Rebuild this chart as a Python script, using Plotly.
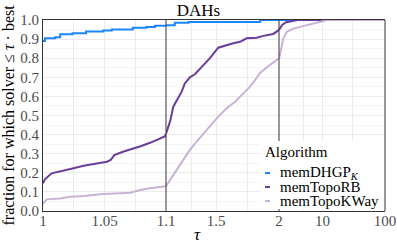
import plotly.graph_objects as go

# ---------------- data ----------------
algorithms = ["memDHGP<sub><i>K</i></sub>", "memTopoRB", "memTopoKWay"]
colors = ["#1a86ff", "#6a3d9a", "#cab2d6"]

tau_dhgp = [1.0, 1.0016, 1.01, 1.014, 1.024, 1.035, 1.049, 1.056, 1.073, 1.084, 1.091,
            1.1, 1.17, 1.28, 1.85, 2.0, 100]
frac_dhgp = [0.89, 0.904, 0.91, 0.925, 0.93, 0.94, 0.945, 0.95, 0.96, 0.963, 0.97,
             0.972, 0.985, 0.99, 1.0, 1.0, 1.0]

tau_rb = [1.0, 1.0015, 1.007, 1.015, 1.024, 1.033, 1.042, 1.052, 1.055, 1.058, 1.065,
          1.072, 1.08, 1.087, 1.092, 1.099, 1.1, 1.132, 1.158, 1.198, 1.225, 1.25, 1.29,
          1.33, 1.397, 1.45, 1.516, 1.583, 1.636, 1.69, 1.742, 1.822, 1.875, 1.955,
          2.0, 2.1, 2.25, 2.6, 4.0, 100]
frac_rb = [0.145, 0.166, 0.197, 0.211, 0.223, 0.237, 0.246, 0.258, 0.267, 0.293, 0.31,
           0.323, 0.34, 0.357, 0.372, 0.39, 0.405, 0.468, 0.546, 0.59, 0.625, 0.668, 0.70,
           0.716, 0.764, 0.80, 0.855, 0.869, 0.878, 0.886, 0.904, 0.907, 0.917, 0.927,
           0.948, 0.962, 0.974, 0.988, 1.0, 1.0]

tau_kway = [1.0, 1.003, 1.014, 1.022, 1.033, 1.049, 1.071, 1.079, 1.087, 1.096, 1.1,
            1.132, 1.172, 1.225, 1.29, 1.344, 1.424, 1.516, 1.583, 1.65, 1.716, 1.77,
            1.81, 1.847, 1.926, 2.0, 2.07, 2.34, 2.66, 3.39, 4.9, 7.1, 10.3, 12, 100]
frac_kway = [0.037, 0.061, 0.066, 0.075, 0.079, 0.089, 0.096, 0.11, 0.119, 0.127, 0.13,
             0.162, 0.197, 0.25, 0.32, 0.363, 0.424, 0.494, 0.538, 0.572, 0.616, 0.651,
             0.686, 0.721, 0.764, 0.80, 0.817, 0.904, 0.938, 0.955, 0.967, 0.981, 0.995,
             1.0, 1.0]

seg_bounds = [(1.0, 1.1), (1.1, 2.0), (2.0, 100.0)]
seg1_ticks = [1, 1.05, 1.1]
seg1_text = ["1", "1.05", "1.1"]
seg1_minor = [1.025, 1.075]
seg2_ticks = [1.5]
seg2_text = ["1.5"]
seg2_minor = [1.3, 1.75]
seg3_ticks = [2, 10, 100]
seg3_text = ["2", "10", "100"]
seg3_minor = [5, 30]
y_ticks = [0.0, 0.1, 0.2, 0.3, 0.4, 0.5, 0.6, 0.7, 0.8, 0.9, 1.0]

# ---------------- figure ----------------
W, H = 397, 245
ML, MR, MT, MB = 43, 12, 20, 34
PW = W - ML - MR
PH = H - MT - MB
FONT = "Liberation Serif"

fig = go.Figure()
series = [(tau_dhgp, frac_dhgp, "hv"), (tau_rb, frac_rb, "linear"), (tau_kway, frac_kway, "linear")]
axes = ["x", "x2", "x3"]
for (taus, fracs, shape), col in zip(series, colors):
    for (lo, hi), ax in zip(seg_bounds, axes):
        xs = [t for t in taus if lo <= t <= hi]
        ys = [f for t, f in zip(taus, fracs) if lo <= t <= hi]
        fig.add_trace(go.Scatter(x=xs, y=ys, xaxis=ax, yaxis="y", mode="lines",
                                 line=dict(color=col, width=2, shape=shape),
                                 showlegend=False, hoverinfo="skip"))

grid = "#ebebeb"
line_col = "#333333"
tickfont = dict(family=FONT, size=15, color="#4d4d4d")
d1 = 123 / PW
d2 = 236 / PW


def xaxis_cfg(domain, rng, vals, text, minor_vals, **kw):
    return dict(domain=domain, range=rng, tickmode="array", tickvals=vals, ticktext=text,
                showline=True, linecolor=line_col, linewidth=1, mirror=True,
                showgrid=True, gridcolor=grid, gridwidth=1, ticks="", zeroline=False,
                tickfont=tickfont, anchor="y", automargin=False, ticklabelstandoff=-4,
                minor=dict(tickmode="array", tickvals=minor_vals, showgrid=True,
                           gridcolor=grid, ticks=""), **kw)


fig.update_layout(
    width=W, height=H, margin=dict(l=ML, r=MR, t=MT, b=MB, autoexpand=False),
    paper_bgcolor="white", plot_bgcolor="white", showlegend=False,
    title=dict(text="DAHs", x=0.5, xref="container", xanchor="center",
               y=1 - 10 / H, yref="container", yanchor="middle",
               font=dict(family=FONT, size=17, color="black")),
    xaxis=xaxis_cfg([0, d1], [1, 1.1], seg1_ticks, seg1_text, seg1_minor),
    xaxis2=xaxis_cfg([d1, d2], [1.1, 2], seg2_ticks, seg2_text, seg2_minor),
    xaxis3=xaxis_cfg([d2, 1], [0.30103, 2], seg3_ticks, seg3_text, seg3_minor, type="log"),
    yaxis=dict(range=[0, 1], tickmode="array", tickvals=y_ticks,
               ticktext=[f"{v:.1f}" for v in y_ticks], showline=True, linecolor=line_col,
               mirror=False, showgrid=True, gridcolor=grid, ticks="", zeroline=False,
               tickfont=tickfont, anchor="x", automargin=False,
               minor=dict(showgrid=True, gridcolor="#f5f5f5", dtick=0.05, tick0=0, ticks="")),
)


def px(xp):
    return (xp - ML) / PW


def py(yp):
    return (H - MB - yp) / PH


# segment separators and right frame
for xv in (d1, d2, 1.0):
    fig.add_shape(type="line", xref="paper", yref="paper", x0=xv, x1=xv, y0=0, y1=1,
                  line=dict(color=line_col, width=1), layer="above")

# axis titles
fig.add_annotation(text="fraction for which solver ≤ <i>τ</i> · best", xref="paper", yref="paper",
                   x=px(8), y=0.5, textangle=-90, showarrow=False, xanchor="center",
                   yanchor="middle", font=dict(family=FONT, size=16, color="black"))
fig.add_annotation(text="<i>τ</i>", xref="paper", yref="paper", x=px(197), y=py(235),
                   showarrow=False, xanchor="center", yanchor="middle",
                   font=dict(family=FONT, size=17, color="black"))

# legend (drawn as annotations/shapes for the compact spacing of the reference)
fig.add_shape(type="rect", xref="paper", yref="paper", x0=px(261), x1=px(383),
              y0=py(209), y1=py(141), fillcolor="white", line=dict(width=0), layer="above")
fig.add_annotation(text="Algorithm", xref="paper", yref="paper", x=px(263), y=py(152),
                   showarrow=False, xanchor="left", yanchor="middle",
                   font=dict(family=FONT, size=15, color="black"))
for i, (name, col) in enumerate(zip(algorithms, colors)):
    yy = 173 + 14 * i
    fig.add_shape(type="line", xref="paper", yref="paper", x0=px(265), x1=px(270),
                  y0=py(yy), y1=py(yy), line=dict(color=col, width=2), layer="above")
    fig.add_annotation(text=name, xref="paper", yref="paper", x=px(278), y=py(yy),
                       showarrow=False, xanchor="left", yanchor="middle",
                       font=dict(family=FONT, size=15, color="black"))

fig.write_html("out.html", post_script="document.body.style.margin='0';",
               config={"displayModeBar": False})
